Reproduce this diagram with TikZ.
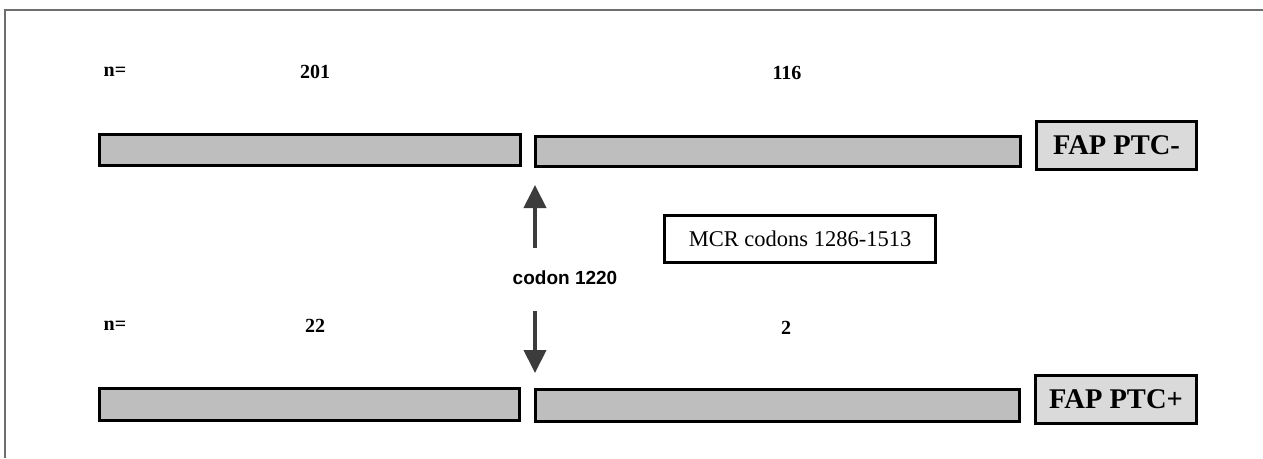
\documentclass[tikz,border=0pt]{standalone}
\usepackage{fontspec}
\setmainfont{Liberation Serif}
\newfontfamily\labsans{Liberation Sans}
\usetikzlibrary{arrows.meta}
\definecolor{barfill}{RGB}{190,190,190}
\definecolor{fapfill}{RGB}{218,218,218}
\definecolor{arrowcol}{RGB}{60,60,60}
\definecolor{framecol}{RGB}{110,110,110}
\tikzset{
  genebar/.style={draw=black, line width=3pt, fill=barfill, inner sep=0pt, anchor=center},
  fapbox/.style={draw=black, line width=3.5pt, fill=fapfill, inner sep=0pt, font=\fontsize{28.5}{32}\selectfont\bfseries},
  mcrbox/.style={draw=black, line width=3pt, fill=white, inner sep=0pt, font=\fontsize{22.5}{26}\selectfont},
  countlab/.style={inner sep=0pt, font=\fontsize{20}{24}\selectfont\bfseries},
  codonlab/.style={inner sep=0pt, font=\labsans\fontsize{19}{22}\selectfont\bfseries},
  sitearrow/.style={draw=arrowcol, line width=4pt, -{Triangle[width=22pt,length=23pt]}},
  framebox/.style={draw=framecol, line width=1.5pt}
}
\begin{document}
\begin{tikzpicture}[x=1pt,y=-1pt]
\useasboundingbox (0,0) rectangle (1263,458);
% frame
\coordinate (frTR) at (1263,10);
\coordinate (frTL) at (5,10);
\coordinate (frBL) at (5,458);
\draw[framebox] (frTR) -- (frTL) -- (frBL);
% top row
\node[countlab] (n1) at (115,72) {n=};
\node[countlab] (c201) at (315,72) {201};
\node[countlab] (c116) at (787,73) {116};
\node[genebar, minimum width=421pt, minimum height=31pt] (bar1) at (310,150) {};
\node[genebar, minimum width=485pt, minimum height=30pt] (bar2) at (778,151.5) {};
\node[fapbox, minimum width=160pt, minimum height=48pt] (fapm) at (1116.5,145.5) {FAP PTC-};
% middle
\node[mcrbox, minimum width=271pt, minimum height=47pt] (mcr) at (800,239) {MCR codons 1286-1513};
\node[codonlab] (codon) at (565,278) {codon 1220};
\coordinate (upTail) at (535,248);
\coordinate (upTip) at (535,185);
\coordinate (dnTail) at (535,311);
\coordinate (dnTip) at (535,373);
\draw[sitearrow] (upTail) -- (upTip);
\draw[sitearrow] (dnTail) -- (dnTip);
% bottom row
\node[countlab] (n2) at (115,326) {n=};
\node[countlab] (c22) at (315,326) {22};
\node[countlab] (c2) at (786,328) {2};
\node[genebar, minimum width=420pt, minimum height=32pt] (bar3) at (309.5,404.5) {};
\node[genebar, minimum width=484pt, minimum height=32pt] (bar4) at (777.5,405.5) {};
\node[fapbox, minimum width=161pt, minimum height=48pt] (fapp) at (1116,399.5) {FAP PTC+};
\end{tikzpicture}
\end{document}
